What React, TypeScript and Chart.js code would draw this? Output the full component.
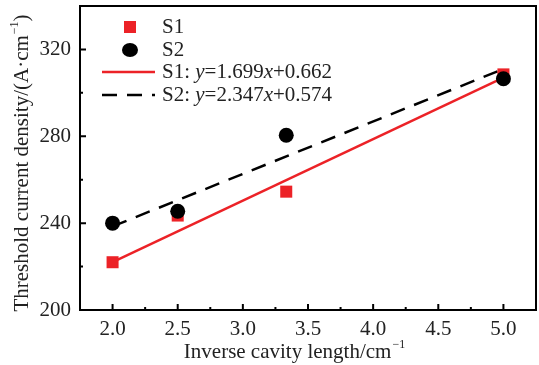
import React, { useEffect, useRef } from "react";
import { Chart, registerables } from "chart.js";

Chart.register(...registerables);

const xValues = [2.0, 2.5, 3.333, 5.0];
const s1Values = [222, 243.5, 254.5, 308.5];
const s2Values = [240, 245.5, 280.5, 306.5];
const fitX = [2.0, 5.0];
const s1Fit = [222, 307];
const s2Fit = [238.5, 311];
const xTicks = [2.0, 2.5, 3.0, 3.5, 4.0, 4.5, 5.0];
const xMinorTicks = [2.25, 2.75, 3.25, 3.75, 4.25, 4.75];
const yTicks = [200, 240, 280, 320];
const yMinorTicks = [220, 260, 300];
const X_MIN = 1.75;
const X_MAX = 5.25;
const Y_MIN = 200;
const Y_MAX = 340;
const legendS1 = "S1";
const legendS2 = "S2";
const fitS1Parts = [["S1: ", false], ["y", true], ["=1.699", false], ["x", true], ["+0.662", false]] as [string, boolean][];
const fitS2Parts = [["S2: ", false], ["y", true], ["=2.347", false], ["x", true], ["+0.574", false]] as [string, boolean][];

const RED = "#ec2227";
const FONT = "'Liberation Serif', 'Times New Roman', serif";
const FS = 21;

const zeroPad = (s: any) => {
  s.paddingLeft = 0; s.paddingRight = 0; s.paddingTop = 0; s.paddingBottom = 0;
};

export default function App() {
  const ref = useRef<HTMLCanvasElement>(null);
  useEffect(() => {
    document.body.style.margin = "0";
    const ctxEl = ref.current!;
    const decor = {
      id: "decor",
      afterDatasetsDraw(chart: any) {
        const { ctx, chartArea: a, scales } = chart;
        const xs = scales.x, ys = scales.y;
        ctx.save();
        ctx.strokeStyle = "#000";
        ctx.lineWidth = 2;
        ctx.strokeRect(a.left, a.top, a.right - a.left, a.bottom - a.top);
        ctx.beginPath();
        xTicks.forEach((v) => { const p = xs.getPixelForValue(v); ctx.moveTo(p, a.bottom); ctx.lineTo(p, a.bottom - 6); });
        xMinorTicks.forEach((v) => { const p = xs.getPixelForValue(v); ctx.moveTo(p, a.bottom); ctx.lineTo(p, a.bottom - 3); });
        yTicks.forEach((v) => { const p = ys.getPixelForValue(v); ctx.moveTo(a.left, p); ctx.lineTo(a.left + 6, p); });
        yMinorTicks.forEach((v) => { const p = ys.getPixelForValue(v); ctx.moveTo(a.left, p); ctx.lineTo(a.left + 3, p); });
        ctx.stroke();

        // legend
        ctx.fillStyle = RED;
        ctx.fillRect(124, 21, 12, 12);
        ctx.fillStyle = "#000";
        ctx.beginPath();
        ctx.ellipse(130, 50, 8, 7, 0, 0, Math.PI * 2);
        ctx.fill();
        ctx.lineWidth = 2.5;
        ctx.strokeStyle = RED;
        ctx.beginPath(); ctx.moveTo(102, 72); ctx.lineTo(155, 72); ctx.stroke();
        ctx.strokeStyle = "#000";
        ctx.setLineDash([15, 10]);
        ctx.beginPath(); ctx.moveTo(102, 95); ctx.lineTo(155, 95); ctx.stroke();
        ctx.setLineDash([]);

        ctx.fillStyle = "#222";
        ctx.textBaseline = "middle";
        ctx.textAlign = "left";
        ctx.font = `${FS}px ${FONT}`;
        ctx.fillText(legendS1, 162, 27);
        ctx.fillText(legendS2, 162, 50);
        const drawParts = (parts: [string, boolean][], x: number, y: number) => {
          parts.forEach(([t, it]) => {
            ctx.font = `${it ? "italic " : ""}${FS}px ${FONT}`;
            ctx.fillText(t, x, y);
            x += ctx.measureText(t).width;
          });
        };
        drawParts(fitS1Parts, 162, 72);
        drawParts(fitS2Parts, 162, 95);

        // x title
        ctx.font = `${FS}px ${FONT}`;
        const xt = "Inverse cavity length/cm";
        const sup = "\u22121";
        const w1 = ctx.measureText(xt).width;
        ctx.font = `12px ${FONT}`;
        const w2 = ctx.measureText(sup).width;
        const sx = 294 - (w1 + w2) / 2;
        ctx.font = `${FS}px ${FONT}`;
        ctx.fillText(xt, sx, 352);
        ctx.font = `12px ${FONT}`;
        ctx.fillText(sup, sx + w1 + 1, 345);

        // y title
        ctx.translate(22, 163);
        ctx.rotate(-Math.PI / 2);
        const ya = "Threshold current density/(A\u00B7cm";
        const yb = ")";
        ctx.font = `${FS}px ${FONT}`;
        const wa = ctx.measureText(ya).width;
        const wb = ctx.measureText(yb).width;
        ctx.font = `12px ${FONT}`;
        const ws = ctx.measureText(sup).width;
        const yx = -(wa + ws + wb + 1) / 2;
        ctx.font = `${FS}px ${FONT}`;
        ctx.fillText(ya, yx, 0);
        ctx.font = `12px ${FONT}`;
        ctx.fillText(sup, yx + wa + 1, -7);
        ctx.font = `${FS}px ${FONT}`;
        ctx.fillText(yb, yx + wa + ws + 1, 0);
        ctx.restore();
      },
    };

    const chart = new Chart(ctxEl, {
      type: "scatter",
      data: {
        datasets: [
          {
            label: "S2",
            data: xValues.map((x, i) => ({ x, y: s2Values[i] })),
            backgroundColor: "#000",
            borderColor: "#000",
            pointStyle: "circle",
            pointRadius: 7.5,
            borderWidth: 0,
            order: 1,
          },
          {
            label: "S1",
            data: xValues.map((x, i) => ({ x, y: s1Values[i] })),
            backgroundColor: RED,
            borderColor: RED,
            pointStyle: "rect",
            pointRadius: 8.5,
            borderWidth: 0,
            order: 2,
          },
          {
            type: "line",
            label: "S1 fit",
            data: fitX.map((x, i) => ({ x, y: s1Fit[i] })),
            borderColor: RED,
            borderWidth: 2.5,
            pointRadius: 0,
            showLine: true,
            order: 3,
          },
          {
            type: "line",
            label: "S2 fit",
            data: fitX.map((x, i) => ({ x, y: s2Fit[i] })),
            borderColor: "#000",
            borderWidth: 2.5,
            borderDash: [15, 10],
            pointRadius: 0,
            showLine: true,
            order: 4,
          },
        ] as any,
      },
      options: {
        animation: false,
        responsive: false,
        layout: { autoPadding: false, padding: { top: 6, right: 3, left: 0, bottom: 0 } },
        plugins: { legend: { display: false }, tooltip: { enabled: false } },
        scales: {
          x: {
            type: "linear",
            min: X_MIN,
            max: X_MAX,
            afterBuildTicks: (s: any) => { s.ticks = xTicks.map((v) => ({ value: v })); },
            afterFit: (s: any) => { s.height = 55; zeroPad(s); },
            grid: { display: false, drawTicks: false },
            border: { display: false },
            ticks: {
              padding: 7, color: "#222", font: { family: FONT, size: FS },
              callback: (v: any) => Number(v).toFixed(1),
            },
          },
          y: {
            type: "linear",
            min: Y_MIN,
            max: Y_MAX,
            afterBuildTicks: (s: any) => { s.ticks = yTicks.map((v) => ({ value: v })); },
            afterFit: (s: any) => { s.width = 80; zeroPad(s); },
            grid: { display: false, drawTicks: false },
            border: { display: false },
            ticks: { padding: 9, color: "#222", font: { family: FONT, size: FS } },
          },
        },
      },
      plugins: [decor],
    });
    return () => chart.destroy();
  }, []);
  return (
    <div style={{ position: "absolute", left: 0, top: 0, width: 539, height: 365, background: "#fff" }}>
      <canvas ref={ref} width={539} height={365} />
    </div>
  );
}
